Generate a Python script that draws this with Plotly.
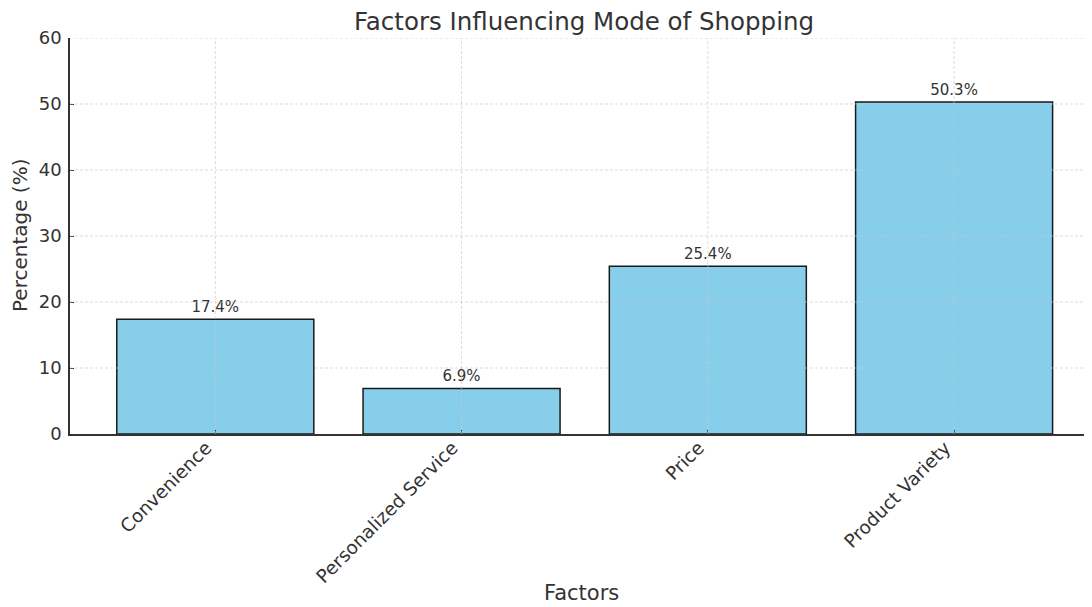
import plotly.graph_objects as go

categories = ["Convenience", "Personalized Service", "Price", "Product Variety"]
percentages = [17.4, 6.9, 25.4, 50.3]
y_ticks = [0, 10, 20, 30, 40, 50, 60]

FONT = "DejaVu Sans"
TXT = "#333333"
GRID = "rgba(200,200,200,0.8)"

fig = go.Figure()
fig.add_trace(go.Bar(
    x=list(range(len(categories))),
    y=percentages,
    width=0.8,
    marker=dict(color="#87CEEB", line=dict(color="#1a1a1a", width=1.5)),
    text=[f"{v:.1f}%" for v in percentages],
    textposition="outside",
    textfont=dict(family=FONT, size=15, color=TXT),
    cliponaxis=False,
))

# grid lines drawn above bars (as in the reference)
shapes = []
for t in y_ticks[1:]:
    shapes.append(dict(type="line", xref="paper", yref="y", x0=0, x1=1, y0=t, y1=t,
                       line=dict(color=GRID, width=0.8, dash="3px,2px"), layer="above"))
for i in range(len(categories)):
    shapes.append(dict(type="line", xref="x", yref="paper", x0=i, x1=i, y0=0, y1=1,
                       line=dict(color=GRID, width=0.8, dash="3px,2px"), layer="above"))

annotations = [
    dict(text="Factors", xref="paper", yref="paper", x=0.5, y=0, xanchor="center",
         yanchor="middle", yshift=-159, showarrow=False,
         font=dict(family=FONT, size=21, color=TXT)),
    dict(text="Percentage (%)", xref="paper", yref="paper", x=0, y=0.5, xanchor="center",
         yanchor="middle", xshift=-50, textangle=-90, showarrow=False,
         font=dict(family=FONT, size=20, color=TXT)),
]

fig.update_layout(
    width=1092, height=607,
    margin=dict(l=62, r=8, t=30, b=181),
    plot_bgcolor="white", paper_bgcolor="white",
    font=dict(family=FONT, color=TXT),
    showlegend=False,
    shapes=shapes,
    annotations=annotations,
    title=dict(text="Factors Influencing Mode of Shopping", x=0.5275, xanchor="center",
               y=0.978, yanchor="middle", font=dict(family=FONT, size=24.5, color=TXT)),
    xaxis=dict(
        range=[-0.59, 3.56], domain=[0, 1],
        tickmode="array", tickvals=list(range(len(categories))), ticktext=categories,
        tickangle=-45, tickfont=dict(family=FONT, size=18.5, color=TXT),
        ticks="inside", ticklen=4, tickcolor="#333", showgrid=False,
        showline=True, linecolor="#333", linewidth=1.5, zeroline=False,
        ticklabelshift=-9, ticklabelstandoff=-6,
        automargin=False,
    ),
    yaxis=dict(
        range=[0, 60], tickmode="array", tickvals=y_ticks,
        tickfont=dict(family=FONT, size=18, color=TXT),
        ticks="inside", ticklen=4, tickcolor="#333", showgrid=False,
        showline=True, linecolor="#333", linewidth=1.5, zeroline=False,
        ticklabelstandoff=3, automargin=False,
    ),
)

fig.write_html("out.html")
